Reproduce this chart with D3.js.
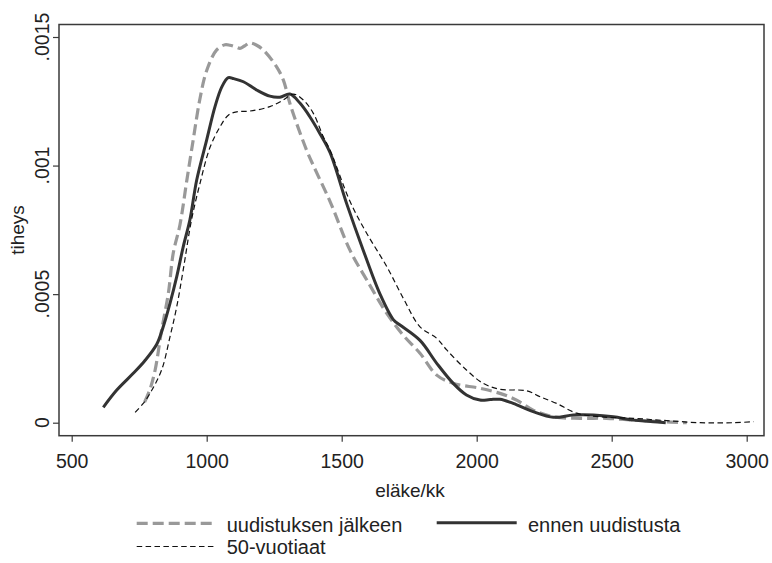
<!DOCTYPE html>
<html>
<head>
<meta charset="utf-8">
<script src="https://cdn.jsdelivr.net/npm/d3@7"></script>
<style>
  body { margin: 0; background: #fff; }
  svg { display: block; font-family: "Liberation Sans", Arial, sans-serif; }
</style>
</head>
<body>
<div id="chart"></div>
<script>
// eläke/kk (x) ja tiheys (y) luettu kuvasta
var jalkeenX = [770, 790, 809, 833, 858, 876, 901, 926, 950, 975, 1000, 1037, 1068, 1086, 1111, 1123, 1140, 1160, 1185, 1210, 1259, 1284, 1308, 1333, 1370, 1395, 1457, 1531, 1593, 1667, 1728, 1790, 1852, 1913, 2012, 2086, 2148, 2209, 2284, 2383, 2481, 2580, 2679, 2778];
var jalkeenY = [0.00008, 0.00013, 0.000205, 0.00036, 0.000503, 0.000659, 0.00077, 0.00094, 0.0011, 0.00126, 0.00137, 0.00145, 0.00147, 0.001468, 0.00146, 0.001456, 0.001465, 0.001477, 0.001468, 0.001449, 0.001384, 0.001332, 0.001242, 0.001164, 0.00106, 0.001, 0.00086, 0.00067, 0.000555, 0.000425, 0.00034, 0.00027, 0.000185, 0.000153, 0.000134, 0.000114, 0.000088, 0.000049, 0.000023, 0.000017, 0.000017, 0.00001, 0.000004, 0];

var ennenX = [617, 667, 728, 770, 815, 839, 864, 889, 913, 938, 963, 1000, 1031, 1056, 1080, 1100, 1136, 1185, 1234, 1271, 1308, 1346, 1382, 1419, 1457, 1519, 1580, 1642, 1692, 1716, 1790, 1852, 1913, 1962, 2012, 2050, 2086, 2135, 2209, 2284, 2358, 2432, 2506, 2580, 2654, 2700];
var ennenY = [0.00006, 0.000127, 0.000192, 0.00024, 0.000305, 0.000373, 0.000464, 0.000568, 0.000684, 0.00079, 0.000944, 0.0011, 0.00123, 0.001306, 0.001342, 0.001338, 0.001326, 0.001294, 0.00127, 0.001266, 0.001278, 0.001242, 0.00119, 0.001125, 0.00105, 0.00085, 0.00067, 0.0005, 0.0004, 0.00038, 0.00032, 0.000231, 0.000153, 0.000108, 0.000088, 0.00009, 0.000091, 0.000075, 0.000043, 0.000021, 0.00003, 0.00003, 0.000023, 0.00001, 0.000004, 0];

var vuotiaatX = [735, 765, 790, 833, 864, 889, 913, 944, 975, 1012, 1049, 1080, 1111, 1160, 1234, 1284, 1321, 1358, 1395, 1432, 1457, 1531, 1593, 1667, 1730, 1790, 1852, 1889, 1962, 2024, 2086, 2185, 2235, 2296, 2370, 2457, 2580, 2704, 2827, 2951, 3025];
var vuotiaatY = [0.00004, 0.000075, 0.000114, 0.000205, 0.000334, 0.000451, 0.000594, 0.00079, 0.00093, 0.00107, 0.00115, 0.001196, 0.001209, 0.001212, 0.001229, 0.001255, 0.001278, 0.001255, 0.001203, 0.001112, 0.00106, 0.00086, 0.000736, 0.000607, 0.00048, 0.000373, 0.000328, 0.000283, 0.000205, 0.000153, 0.00013, 0.000124, 0.000101, 0.000075, 0.000037, 0.000023, 0.000017, 0.000008, 0, 0, 0.000004];

var xTicks = [500, 1000, 1500, 2000, 2500, 3000];
var yTicks = [0, 0.0005, 0.001, 0.0015];
var yTickLabels = ["0", ".0005", ".001", ".0015"];

var width = 772;
var height = 563;
var frame = { left: 59, right: 764, top: 24.5, bottom: 435.7 };

var svg = d3.select("#chart")
  .append("svg")
  .attr("width", width)
  .attr("height", height);

var x = d3.scaleLinear().domain([500, 3000]).range([71.7, 746.7]);
var y = d3.scaleLinear().domain([0, 0.0015]).range([422.7, 37]);

// kehys
svg.append("rect")
  .attr("x", frame.left)
  .attr("y", frame.top)
  .attr("width", frame.right - frame.left)
  .attr("height", frame.bottom - frame.top)
  .attr("fill", "none")
  .attr("stroke", "#3a3a3a")
  .attr("stroke-width", 1.5);

// x-akseli
var xAxis = svg.append("g")
  .attr("transform", "translate(0," + frame.bottom + ")")
  .call(d3.axisBottom(x).tickValues(xTicks).tickSize(6).tickPadding(12).tickFormat(d3.format("d")));
xAxis.select(".domain").remove();
xAxis.selectAll(".tick line").attr("stroke", "#3a3a3a").attr("stroke-width", 1.2);
xAxis.selectAll(".tick text")
  .attr("font-size", 19.5)
  .attr("fill", "#222")
  .attr("font-family", "Liberation Sans, Arial, sans-serif");

// y-akseli, kierretyt tekstit
var yAxis = svg.append("g")
  .attr("transform", "translate(" + frame.left + ",0)")
  .call(d3.axisLeft(y).tickValues(yTicks).tickSize(6).tickFormat(""));
yAxis.select(".domain").remove();
yAxis.selectAll(".tick line").attr("stroke", "#3a3a3a").attr("stroke-width", 1.2);

svg.selectAll(".ylab")
  .data(yTicks)
  .enter()
  .append("text")
  .attr("class", "ylab")
  .attr("transform", (d) => "translate(49," + y(d) + ") rotate(-90)")
  .attr("text-anchor", "middle")
  .attr("font-size", 19.5)
  .attr("fill", "#222")
  .text((d, i) => yTickLabels[i]);

// akselien otsikot
svg.append("text")
  .attr("x", 410)
  .attr("y", 497)
  .attr("text-anchor", "middle")
  .attr("font-size", 19)
  .attr("fill", "#222")
  .text("eläke/kk");

svg.append("text")
  .attr("transform", "translate(24,230) rotate(-90)")
  .attr("text-anchor", "middle")
  .attr("font-size", 19)
  .attr("fill", "#222")
  .text("tiheys");

// käyrät
var series = [
  { name: "uudistuksen jälkeen", xs: jalkeenX, ys: jalkeenY, color: "#999", w: 3.2, dash: "11,5" },
  { name: "ennen uudistusta", xs: ennenX, ys: ennenY, color: "#333", w: 3, dash: null },
  { name: "50-vuotiaat", xs: vuotiaatX, ys: vuotiaatY, color: "#111", w: 1.2, dash: "5.5,3.4" }
];

var line = d3.line()
  .x((d) => x(d[0]))
  .y((d) => y(d[1]))
  .curve(d3.curveCatmullRom.alpha(0.5));

series.forEach(function (s) {
  var pts = s.xs.map((v, i) => [v, s.ys[i]]);
  svg.append("path")
    .datum(pts)
    .attr("d", line)
    .attr("fill", "none")
    .attr("stroke", s.color)
    .attr("stroke-width", s.w)
    .attr("stroke-linejoin", "round")
    .attr("stroke-dasharray", s.dash);
});

// selite
var legendPos = [
  { lx: 136.7, ly: 523.3, tx: 226.7, ty: 531.5 },
  { lx: 436.7, ly: 522.8, tx: 528, ty: 531.5 },
  { lx: 136.7, ly: 546.5, tx: 226.7, ty: 554 }
];
series.forEach(function (s, i) {
  var p = legendPos[i];
  svg.append("line")
    .attr("x1", p.lx)
    .attr("x2", p.lx + 80)
    .attr("y1", p.ly)
    .attr("y2", p.ly)
    .attr("stroke", s.color)
    .attr("stroke-width", s.w)
    .attr("stroke-dasharray", s.dash);
  svg.append("text")
    .attr("x", p.tx)
    .attr("y", p.ty)
    .attr("font-size", 20)
    .attr("fill", "#222")
    .text(s.name);
});
</script>
</body>
</html>
